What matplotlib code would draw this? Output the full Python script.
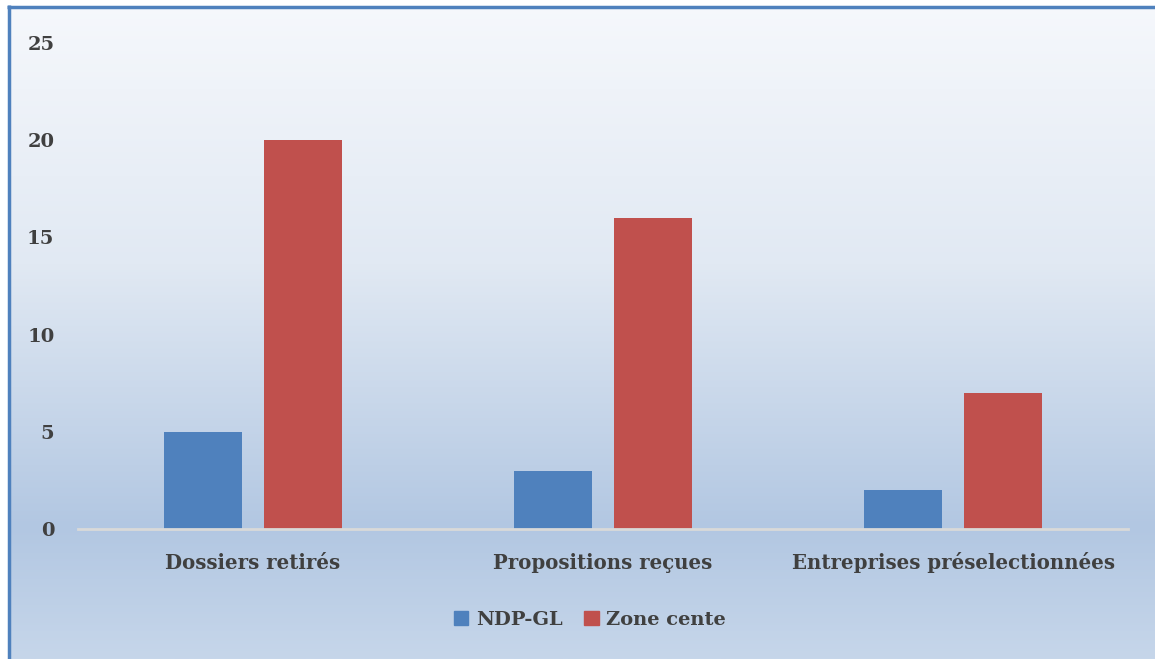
import numpy as np
import matplotlib
matplotlib.use("Agg")
import matplotlib.pyplot as plt
from matplotlib.patches import Patch
from matplotlib.colors import LinearSegmentedColormap

categories = ["Dossiers retirés", "Propositions reçues", "Entreprises préselectionnées"]
series_names = ["NDP-GL", "Zone cente"]
ndp_gl = [5, 3, 2]
zone_cente = [20, 16, 7]
yticks = [0, 5, 10, 15, 20, 25]

W, H = 1155, 659
fig = plt.figure(figsize=(W / 100, H / 100), dpi=100)

# background gradient
bg = fig.add_axes([0, 0, 1, 1], zorder=0)
bg.set_axis_off()
cmap = LinearSegmentedColormap.from_list(
    "bg", [(0.0, "#f6f8fc"), (0.40, "#e1e9f3"), (0.80, "#b2c7e2"), (1.0, "#c6d6ea")])
grad = np.linspace(0, 1, 256).reshape(-1, 1)
bg.imshow(grad, aspect="auto", cmap=cmap, extent=[0, 1, 0, 1], origin="upper")
bg.set_xlim(0, 1)
bg.set_ylim(0, 1)
# white margins and blue border (left and top)
bg.axvspan(0, 7 / W, color="white")
bg.axhspan(1 - 5 / H, 1, color="white")
bg.plot([8.5 / W, 8.5 / W], [0, 1 - 5 / H], color="#4f81bd", lw=2.5, solid_capstyle="butt")
bg.plot([7 / W, 1], [1 - 6.5 / H, 1 - 6.5 / H], color="#4f81bd", lw=2.5, solid_capstyle="butt")

left, right = 78 / W, 1128 / W
bottom, top = 1 - 529 / H, 1 - 43 / H
ax = fig.add_axes([left, bottom, right - left, top - bottom], zorder=1)
ax.patch.set_alpha(0)

x = np.arange(len(categories))
w = 0.223
off = 0.143
ax.bar(x - off, ndp_gl, w, color="#4f81bd", label=series_names[0], zorder=2)
ax.bar(x + off, zone_cente, w, color="#c0504d", label=series_names[1], zorder=2)

ax.set_xlim(-0.5, len(categories) - 0.5)
ax.set_ylim(0, 25)
ax.set_yticks(yticks)
for s in ["top", "right", "left"]:
    ax.spines[s].set_visible(False)
ax.spines["bottom"].set_color("#d9d9d9")
ax.spines["bottom"].set_linewidth(2)
ax.tick_params(axis="both", length=0)
ax.tick_params(axis="y", pad=17)
ax.tick_params(axis="x", pad=29)
ax.set_xticks(x)
ax.set_xticklabels(categories)

for lab in ax.get_yticklabels():
    lab.set_fontfamily("DejaVu Serif"); lab.set_fontweight("heavy"); lab.set_color("#404040"); lab.set_fontsize(14)
    lab.set_verticalalignment("center_baseline")
for lab in ax.get_xticklabels():
    lab.set_fontfamily("DejaVu Serif"); lab.set_fontweight("heavy"); lab.set_color("#404040"); lab.set_fontsize(14.2)
    lab.set_verticalalignment("baseline")

handles = [Patch(color="#4f81bd"), Patch(color="#c0504d")]
leg = fig.legend(handles, series_names, loc="center", bbox_to_anchor=(590 / W, 1 - 620 / H),
                 ncol=2, frameon=False, handlelength=0.75, handleheight=0.75,
                 handletextpad=0.4, columnspacing=1.1,
                 prop=dict(family="DejaVu Serif", weight="heavy", size=14))
for t in leg.get_texts():
    t.set_color("#404040")

fig.savefig("out.png", dpi=100)
